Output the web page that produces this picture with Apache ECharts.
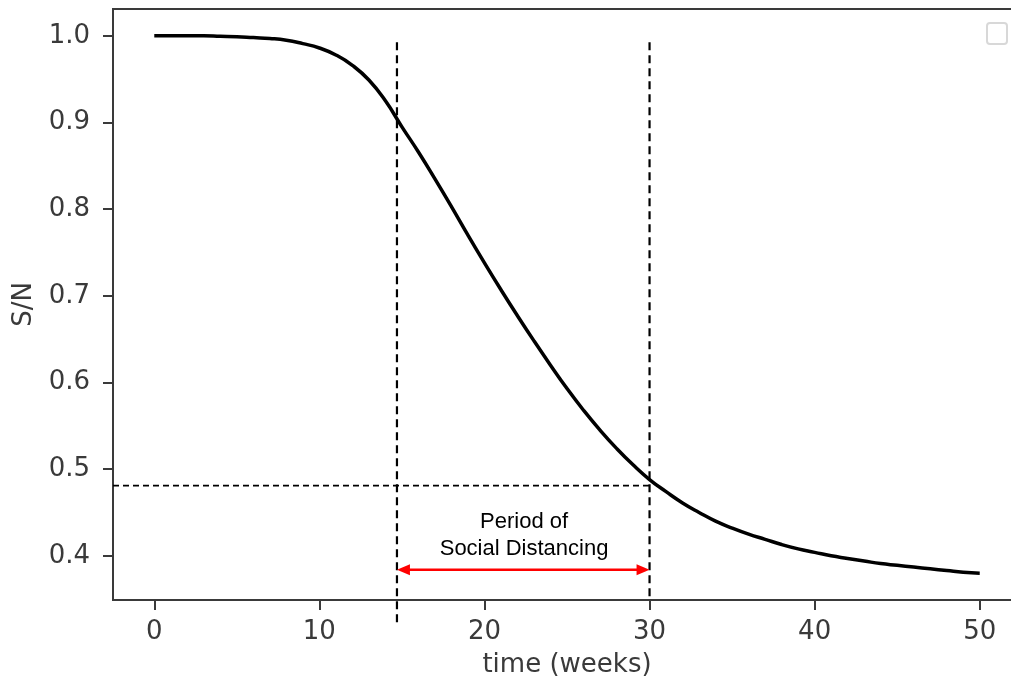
<!DOCTYPE html>
<html>
<head>
<meta charset="utf-8">
<script src="https://cdn.jsdelivr.net/npm/echarts@6/dist/echarts.min.js"></script>
<style>
  html, body { margin: 0; padding: 0; background: #fff; }
  #chartsDom { width: 1011px; height: 686px; }
</style>
</head>
<body>
<div id="chartsDom"></div>
<script>
// S/N curve (week -> fraction susceptible)
const weeks = [0, 1, 2, 3, 4, 5, 6, 7, 8, 9, 10, 11, 12, 13, 14, 15, 16, 17, 18, 19, 20,
  21, 22, 23, 24, 25, 26, 27, 28, 29, 30, 31, 32, 33, 34, 35, 36, 37, 38, 39, 40,
  41, 42, 43, 44, 45, 46, 47, 48, 49, 50];
const sOverN = [1.000, 1.000, 1.000, 1.000, 0.9995, 0.999, 0.998, 0.997, 0.995, 0.991, 0.986,
  0.978, 0.966, 0.949, 0.925, 0.895, 0.866, 0.835, 0.803, 0.770, 0.738,
  0.707, 0.677, 0.648, 0.620, 0.593, 0.568, 0.545, 0.524, 0.505, 0.488,
  0.474, 0.461, 0.450, 0.440, 0.432, 0.425, 0.419, 0.413, 0.408, 0.404,
  0.400, 0.397, 0.394, 0.391, 0.389, 0.387, 0.385, 0.383, 0.381, 0.380];

// tick labels
const xTicks = [0, 10, 20, 30, 40, 50];
const yTicks = [0.4, 0.5, 0.6, 0.7, 0.8, 0.9, 1.0];

// annotation (data units)
const distWeeks = [14.7, 30.0];      // start / end of social distancing
const dashTop = 0.9925;
const dashBottom = [0.318, 0.351];
const sLevel = 0.481;
const arrowLevel = 0.384;
const noteLines = ["Period of", "Social Distancing"];
const noteLevels = [0.439, 0.408];
const noteWeek = 22.4;

const axisColor = "#3a3a3a";
const labelFont = "DejaVu Sans";

function drawNote(params, api) {
  const children = [];
  const dashV = { stroke: "#000", lineWidth: 2.2, lineDash: [8, 5] };
  // vertical dashed lines
  distWeeks.forEach((w, i) => {
    const a = api.coord([w, dashTop]);
    const b = api.coord([w, dashBottom[i]]);
    children.push({ type: "line", shape: { x1: a[0], y1: a[1], x2: b[0], y2: b[1] }, style: dashV });
  });
  // horizontal dashed line
  const h1 = api.coord([-2.5, sLevel]);
  const h2 = api.coord([distWeeks[1], sLevel]);
  children.push({
    type: "line",
    shape: { x1: h1[0], y1: h1[1], x2: h2[0], y2: h2[1] },
    style: { stroke: "#000", lineWidth: 1.6, lineDash: [6, 4] }
  });
  // red double arrow
  const p1 = api.coord([distWeeks[0], arrowLevel]);
  const p2 = api.coord([distWeeks[1], arrowLevel]);
  const head = 13, half = 5.5;
  children.push({
    type: "line",
    shape: { x1: p1[0] + head - 2, y1: p1[1], x2: p2[0] - head + 2, y2: p2[1] },
    style: { stroke: "#ff0000", lineWidth: 2.5 }
  });
  children.push({
    type: "polygon",
    shape: { points: [[p1[0], p1[1]], [p1[0] + head, p1[1] - half], [p1[0] + head, p1[1] + half]] },
    style: { fill: "#ff0000" }
  });
  children.push({
    type: "polygon",
    shape: { points: [[p2[0], p2[1]], [p2[0] - head, p2[1] - half], [p2[0] - head, p2[1] + half]] },
    style: { fill: "#ff0000" }
  });
  // caption
  noteLines.forEach((t, i) => {
    const c = api.coord([noteWeek, noteLevels[i]]);
    children.push({
      type: "text",
      style: {
        text: t, x: c[0], y: c[1], fill: "#000",
        fontSize: 22, fontFamily: "Liberation Sans, Arial",
        align: "center", verticalAlign: "middle"
      }
    });
  });
  return { type: "group", children };
}

const myChart = echarts.init(document.getElementById("chartsDom"));
const option = {
  animation: false,
  backgroundColor: "#fff",
  grid: {
    left: 113, top: 9, right: -10, bottom: 86,
    show: true, borderColor: axisColor, borderWidth: 2,
    outerBoundsMode: "none"
  },
  xAxis: {
    type: "value",
    min: -2.5, max: 52.5,
    name: "time (weeks)",
    nameLocation: "middle",
    nameGap: 52,
    nameTextStyle: { fontSize: 26, fontFamily: labelFont, color: "#3a3a3a" },
    axisLine: { show: true, onZero: false, lineStyle: { color: axisColor, width: 2 } },
    axisTick: { show: true, length: 10, lineStyle: { color: axisColor, width: 2 }, customValues: xTicks },
    axisLabel: { fontSize: 26, fontFamily: labelFont, color: "#3a3a3a", margin: 19, customValues: xTicks },
    splitLine: { show: false }
  },
  yAxis: {
    type: "value",
    min: 0.349, max: 1.031,
    name: "S/N",
    nameLocation: "middle",
    nameGap: 76,
    nameTextStyle: { fontSize: 26, fontFamily: labelFont, color: "#3a3a3a" },
    axisLine: { show: true, onZero: false, lineStyle: { color: axisColor, width: 2 } },
    axisTick: { show: true, length: 10, lineStyle: { color: axisColor, width: 2 }, customValues: yTicks },
    axisLabel: {
      fontSize: 26, fontFamily: labelFont, color: "#3a3a3a", margin: 23,
      customValues: yTicks, formatter: v => v.toFixed(1)
    },
    splitLine: { show: false }
  },
  graphic: [
    // empty legend box from the original figure
    {
      type: "rect", left: 986, top: 22,
      shape: { width: 20, height: 21, r: 3 },
      style: { fill: "#fff", stroke: "#d8d8d8", lineWidth: 2 }
    }
  ],
  series: [
    {
      type: "custom",
      renderItem: drawNote,
      data: [[distWeeks[0], sLevel]],
      clip: false,
      silent: true,
      z: 1
    },
    {
      type: "line",
      data: weeks.map((w, i) => [w, sOverN[i]]),
      showSymbol: false,
      smooth: 0.5,
      lineStyle: { color: "#000", width: 3.5 },
      z: 2
    }
  ]
};
option && myChart.setOption(option);
</script>
</body>
</html>
